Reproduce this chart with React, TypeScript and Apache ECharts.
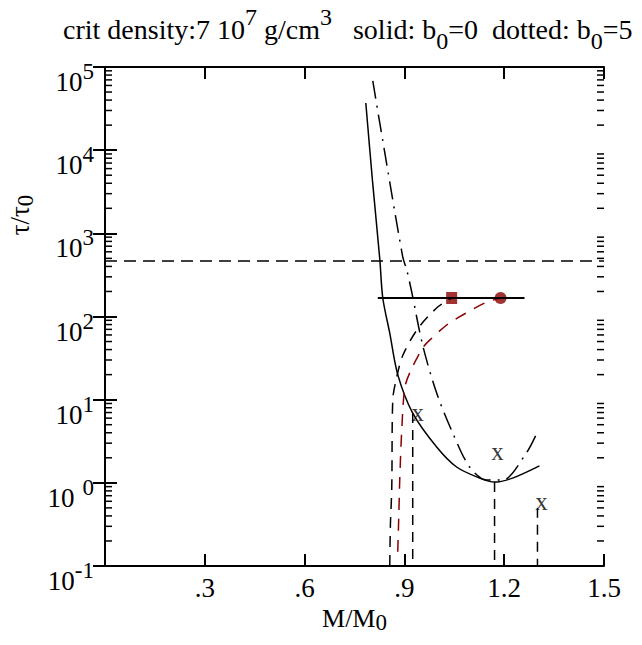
import React, { useEffect, useRef } from 'react';
import * as echarts from 'echarts';

// ---- data ----
const xTicks = [0.3, 0.6, 0.9, 1.2, 1.5];
const xTickLabels = ['.3', '.6', '.9', '1.2', '1.5'];

// solid curve (b0 = 0)
const solidX = [0.784, 0.804, 0.826, 0.835, 0.856, 0.880, 0.925, 0.997, 1.057, 1.126, 1.171, 1.225, 1.306];
const solidY = [36900, 4300, 491, 167, 63, 20, 6.9, 2.7, 1.55, 1.14, 1.02, 1.14, 1.6];

// dash-dot curve
const dashDotX = [0.805, 0.823, 0.895, 0.907, 0.922, 0.955, 0.997, 1.045, 1.096, 1.147, 1.195, 1.267, 1.300];
const dashDotY = [68000, 25000, 520, 363, 197, 45, 12, 4, 1.55, 1.08, 1.08, 2.3, 4.1];

// black dashed branch (ends at the square)
const blackDashX = [0.856, 0.858, 0.862, 0.865, 0.877, 0.895, 0.940, 1.000, 1.042];
const blackDashY = [0.1, 0.32, 0.85, 10, 18.7, 34, 71, 130, 167];

// red dashed branch (ends at the circle)
const redDashX = [0.880, 0.883, 0.886, 0.892, 0.901, 0.916, 0.955, 0.976, 1.027, 1.060, 1.141, 1.189];
const redDashY = [0.148, 0.38, 1.08, 4.3, 13.8, 21, 42, 52, 79, 96, 145, 167];

// horizontal reference lines
const critLevel = 465;
const plateauLevel = 167;
const plateauX = [0.82, 1.261];

// vertical dashed drops: [x, top value]
const dropX = [0.925, 1.171, 1.300];
const dropTop = [6.9, 1.02, 0.5];

// markers
const circlePoint = [1.189, 167];
const squarePoint = [1.042, 167];
const xMarkX = [0.940, 1.180, 1.312];
const xMarkY = [7.1, 2.35, 0.59];

const yMin = 0.1;
const yMax = 1e5;
const xMin = 0;
const xMax = 1.5;

const RED = '#8B0000';
const FONT = 'Liberation Serif';

export default function App() {
  const ref = useRef<HTMLDivElement>(null);

  useEffect(() => {
    if (!ref.current) return;
    const chart = echarts.init(ref.current, undefined, { renderer: 'svg' });

    const minorTicks: number[] = [];
    for (let e = -1; e < 5; e++) {
      for (let m = 2; m <= 9; m++) minorTicks.push(m * Math.pow(10, e));
    }

    const zip = (xs: number[], ys: number[]) => xs.map((x, i) => [x, ys[i]]);
    const lineBase = {
      type: 'line' as const,
      showSymbol: false,
      symbol: 'none',
      silent: true,
      xAxisIndex: 0,
      yAxisIndex: 0,
    };

    const dropSeries = dropX.map((x, i) => ({
      ...lineBase,
      data: [[x, dropTop[i]], [x, yMin]],
      lineStyle: { color: '#000', width: 1.5, type: [10, 7] },
    }));

    const axisCommon = {
      axisLine: { show: true, lineStyle: { color: '#000', width: 2 } },
      splitLine: { show: false },
    };

    const option: any = {
      animation: false,
      backgroundColor: '#fff',
      title: {
        left: 58,
        top: 0,
        text: '{a|crit density:7 10}{sup|7}{a| g/cm}{sup|3}{a|   solid: b}{sub|0}{a|=0  dotted: b}{sub|0}{a|=5}',
        textStyle: {
          fontFamily: FONT,
          fontWeight: 'normal',
          color: '#000',
          rich: {
            a: { fontFamily: FONT, fontSize: 28, lineHeight: 48, color: '#000' },
            sup: { fontFamily: FONT, fontSize: 24, verticalAlign: 'top', color: '#000' },
            sub: { fontFamily: FONT, fontSize: 24, verticalAlign: 'bottom', color: '#000' },
          },
        },
      },
      grid: { left: 105, right: 38, top: 67, bottom: 79, containLabel: false },
      xAxis: [
        {
          type: 'value',
          min: xMin,
          max: xMax,
          interval: 0.3,
          position: 'bottom',
          ...axisCommon,
          axisTick: { show: true, inside: true, length: 12, lineStyle: { color: '#000', width: 2 } },
          axisLabel: {
            margin: 8,
            fontFamily: FONT,
            fontSize: 27,
            color: '#000',
            formatter: (v: number) => {
              const i = xTicks.findIndex((t) => Math.abs(t - v) < 1e-6);
              return i >= 0 ? xTickLabels[i] : '';
            },
          },
          name: '{a|M/M}{s|0}',
          nameLocation: 'middle',
          nameGap: 22,
          nameTextStyle: {
            fontFamily: FONT,
            color: '#000',
            rich: {
              a: { fontFamily: FONT, fontSize: 26, lineHeight: 30, color: '#000' },
              s: { fontFamily: FONT, fontSize: 23, verticalAlign: 'bottom', color: '#000' },
            },
          },
        },
        {
          type: 'value',
          min: xMin,
          max: xMax,
          interval: 0.3,
          position: 'top',
          ...axisCommon,
          axisTick: { show: true, inside: true, length: 12, lineStyle: { color: '#000', width: 2 } },
          axisLabel: { show: false },
        },
      ],
      yAxis: [
        {
          type: 'log',
          logBase: 10,
          min: yMin,
          max: yMax,
          position: 'left',
          ...axisCommon,
          axisTick: { show: true, inside: true, length: 12, lineStyle: { color: '#000', width: 2 } },
          axisLabel: {
            margin: 11,
            verticalAlign: 'middle',
            padding: [30, 0, 0, 0],
            fontFamily: FONT,
            color: '#000',
            formatter: (v: number) => {
              const e = Math.round(Math.log10(v));
              return e === 0 ? '{b|10}{sp|0}' : '{b|10}{s|' + e + '}';
            },
            rich: {
              b: { fontFamily: FONT, fontSize: 27, lineHeight: 44, color: '#000' },
              s: { fontFamily: FONT, fontSize: 23, verticalAlign: 'top', color: '#000' },
              sp: { fontFamily: FONT, fontSize: 23, verticalAlign: 'top', padding: [0, 0, 0, 8], color: '#000' },
            },
          },
        },
        {
          type: 'log',
          logBase: 10,
          min: yMin,
          max: yMax,
          position: 'right',
          ...axisCommon,
          axisTick: { show: true, inside: true, length: 12, lineStyle: { color: '#000', width: 2 } },
          axisLabel: { show: false },
        },
      ],
      graphic: [
        {
          type: 'text',
          x: 20,
          y: 215,
          rotation: Math.PI / 2,
          style: {
            text: '{a|τ/τ}{s|0}',
            align: 'center',
            verticalAlign: 'middle',
            fill: '#000',
            rich: {
              a: { fontFamily: FONT, fontSize: 27, lineHeight: 34, fill: '#000' },
              s: { fontFamily: FONT, fontSize: 23, verticalAlign: 'bottom', fill: '#000' },
            },
          },
        },
      ],
      series: [
        {
          type: 'custom',
          coordinateSystem: 'cartesian2d',
          xAxisIndex: 0,
          yAxisIndex: 0,
          silent: true,
          clip: false,
          data: minorTicks.map((v) => [xMin, v]),
          renderItem: (params: any, api: any) => {
            const v = api.value(1);
            const l = api.coord([xMin, v]);
            const r = api.coord([xMax, v]);
            return {
              type: 'group',
              children: [
                { type: 'line', shape: { x1: l[0], y1: l[1], x2: l[0] + 7, y2: l[1] }, style: { stroke: '#000', lineWidth: 1.5 } },
                { type: 'line', shape: { x1: r[0], y1: r[1], x2: r[0] - 7, y2: r[1] }, style: { stroke: '#000', lineWidth: 1.5 } },
              ],
            };
          },
        },
        {
          ...lineBase,
          data: [[xMin, critLevel], [xMax, critLevel]],
          lineStyle: { color: '#000', width: 1.5, type: [12, 7] },
        },
        {
          ...lineBase,
          smooth: 0.3,
          data: zip(solidX, solidY),
          lineStyle: { color: '#000', width: 1.5, type: 'solid' },
        },
        {
          ...lineBase,
          smooth: 0.3,
          data: zip(dashDotX, dashDotY),
          lineStyle: { color: '#000', width: 1.5, type: [18, 7, 2, 7] },
        },
        {
          ...lineBase,
          smooth: 0.3,
          data: zip(blackDashX, blackDashY),
          lineStyle: { color: '#000', width: 1.5, type: [11, 8] },
        },
        {
          ...lineBase,
          smooth: 0.3,
          data: zip(redDashX, redDashY),
          lineStyle: { color: RED, width: 1.5, type: [12, 9] },
        },
        {
          ...lineBase,
          data: [[plateauX[0], plateauLevel], [plateauX[1], plateauLevel]],
          lineStyle: { color: '#000', width: 2, type: 'solid' },
        },
        ...dropSeries,
        {
          type: 'scatter',
          silent: true,
          data: [circlePoint],
          symbol: 'circle',
          symbolSize: 12,
          itemStyle: { color: RED },
        },
        {
          type: 'scatter',
          silent: true,
          data: [squarePoint],
          symbol: 'rect',
          symbolSize: [11, 12],
          itemStyle: { color: RED },
        },
        {
          type: 'scatter',
          silent: true,
          data: zip(xMarkX, xMarkY),
          symbolSize: 0,
          itemStyle: { color: '#000' },
          label: {
            show: true,
            position: 'inside',
            formatter: 'x',
            fontFamily: FONT,
            fontSize: 25,
            color: '#000',
            textBorderWidth: 0,
            textBorderColor: 'transparent',
          },
        },
      ],
    };

    chart.setOption(option);
    return () => chart.dispose();
  }, []);

  return (
    <div
      ref={ref}
      style={{ position: 'fixed', left: 0, top: 0, width: 642, height: 645, background: '#fff' }}
    />
  );
}
